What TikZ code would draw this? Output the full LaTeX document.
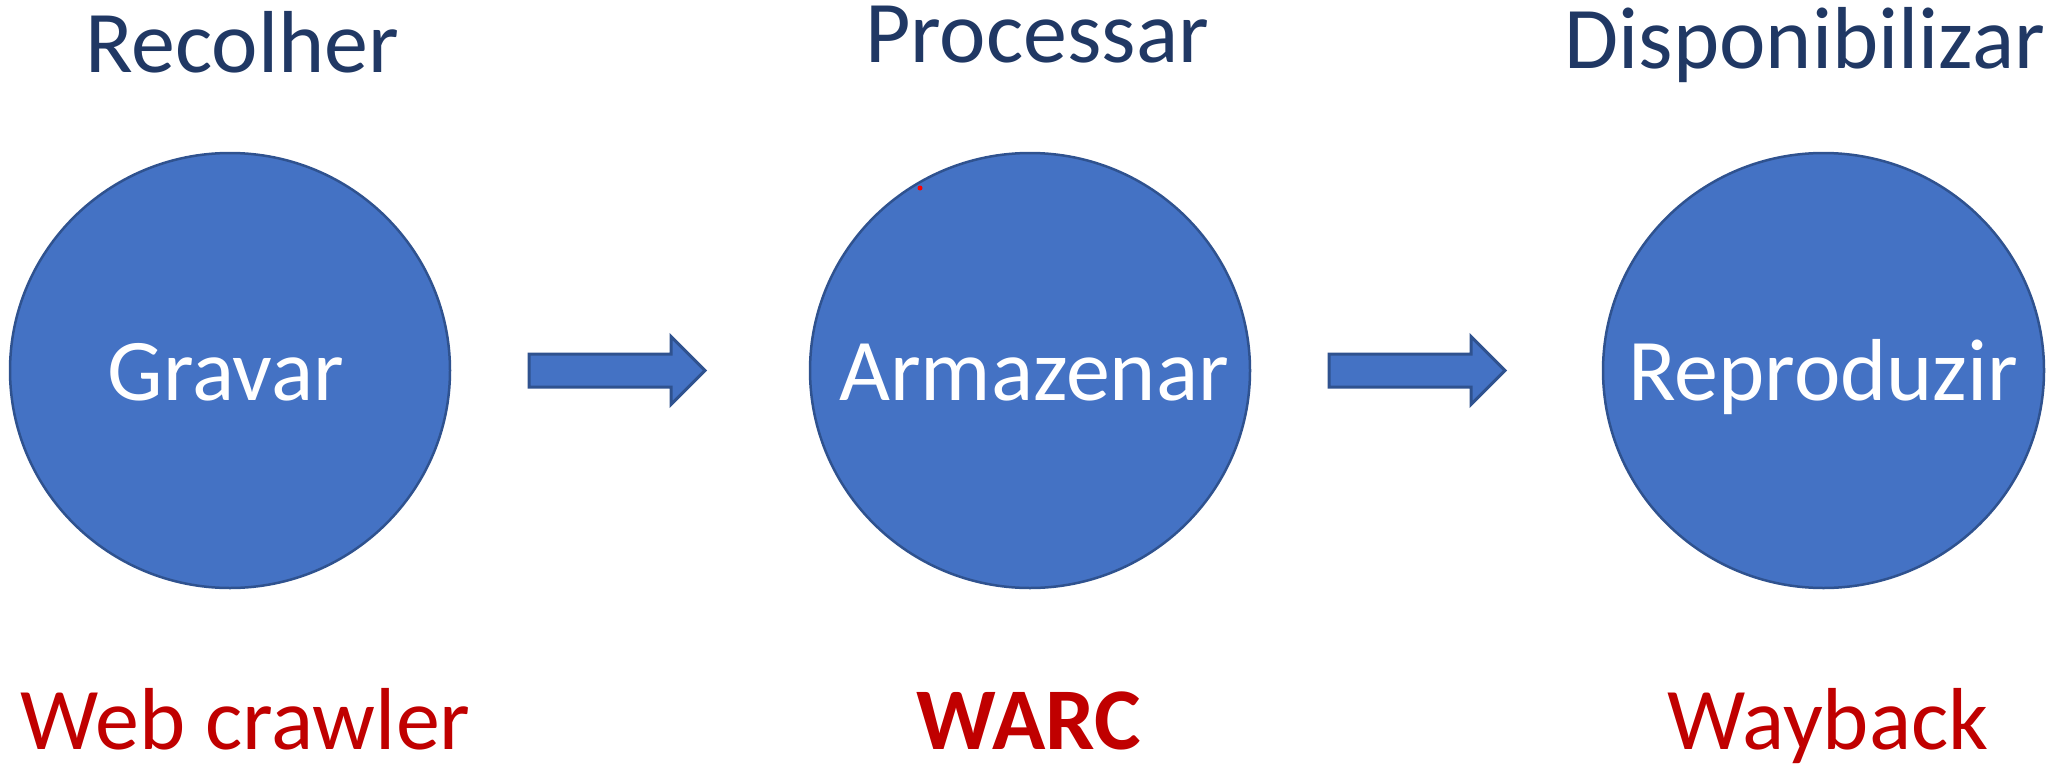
\documentclass[tikz,border=0pt]{standalone}
\usepackage{fontspec}
\setmainfont{Carlito}
\usetikzlibrary{calc}
\definecolor{blobfill}{HTML}{4472C4}
\definecolor{blobline}{HTML}{2F528F}
\definecolor{titleblue}{HTML}{203864}
\definecolor{darkred}{HTML}{C00000}
\begin{document}
\begin{tikzpicture}[x=1pt,y=-1pt,
  blob/.style={ellipse, draw=blobline, fill=blobfill, line width=2.5pt, inner sep=0pt, minimum width=440pt, minimum height=435pt},
  barrow/.style={draw=blobline, fill=blobfill, line width=3pt, line join=miter},
  bigtext/.style={font=\fontsize{88}{100}\selectfont, inner sep=0pt, anchor=base},
  title/.style={bigtext, text=titleblue},
  inside/.style={bigtext, text=white},
  tool/.style={bigtext, text=darkred}]
\useasboundingbox (0,0) rectangle (2049,763);
\tikzset{ellipse/.style={}}
% circles
\draw[blob] (230,370.5) ellipse [x radius=220, y radius=217.5];
\coordinate (c1) at (230,370.5);
\draw[blob] (1030,370.5) ellipse [x radius=220, y radius=217.5];
\coordinate (c2) at (1030,370.5);
\draw[blob] (1823.5,370.5) ellipse [x radius=220.5, y radius=217.5];
\coordinate (c3) at (1823.5,370.5);
% texts in circles
\node[inside] (t1) at ($(c1)+(-4,29.5)$) {Gravar};
\node[inside] (t2) at ($(c2)+(4,29.5)$) {Armazenar};
\node[inside] (t3) at ($(c3)+(0,29.5)$) {Reproduzir};
% titles
\node[title] (h1) at (242,72) {Recolher};
\node[title] (h2) at (1037,62) {Processar};
\node[title] (h3) at (1805,68) {Disponibilizar};
% tools
\node[tool, anchor=base west] (b1) at (20,749) {Web crawler};
\node[tool, font=\fontsize{88}{100}\selectfont\bfseries] (b2) at (1029,749) {WARC};
\node[tool, anchor=base west] (b3) at (1667,749) {Wayback};
% block arrows
\coordinate (a1) at ($(c1)+(299,0)$);
\coordinate (a2) at ($(c2)+(299,0)$);
\foreach \a in {a1,a2}{
  \draw[barrow] ([shift={(0,-16.5)}]\a) -- ++(142,0) -- ++(0,-17.5) -- ++(34,34) -- ++(-34,34) -- ++(0,-17.5) -- ++(-142,0) -- cycle;
}
% stray red dot
\fill[red] (920,188) circle (2.5);
\end{tikzpicture}
\end{document}
